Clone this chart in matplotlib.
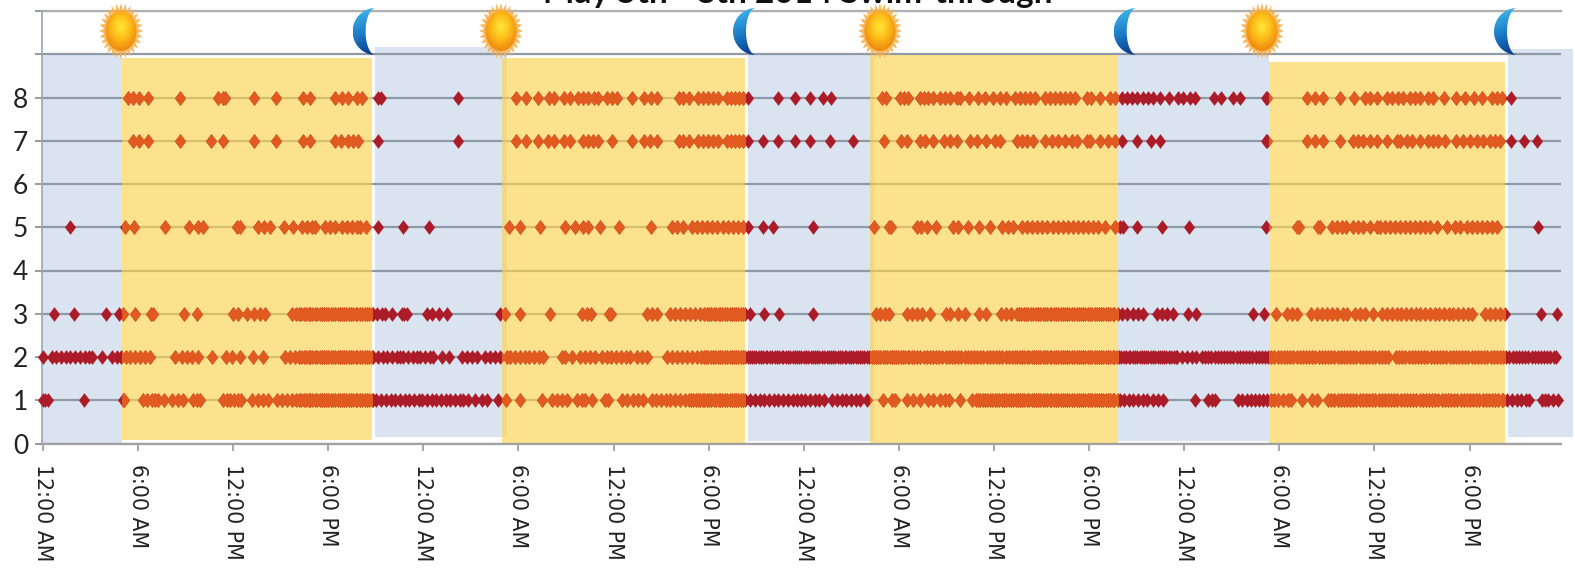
import numpy as np
import matplotlib
matplotlib.use('Agg')
import matplotlib.pyplot as plt
from matplotlib.font_manager import FontProperties
from matplotlib.patches import Rectangle, Polygon, Ellipse
from matplotlib.path import Path

# hours since midnight on May 5th, one list for each level
row8_hours = [5.47, 5.75, 6.15, 6.7, 8.77, 11.14, 11.45, 11.62, 13.46, 14.86, 16.57, 16.99, 18.58, 19.0, 19.38, 19.95, 20.27, 21.32, 21.47,
              26.38, 30.06, 30.69, 31.47, 32.17, 32.49, 33.08, 33.46, 33.97, 34.33, 34.6, 35.0, 35.28, 35.85, 36.12, 36.44, 37.43, 38.2, 38.62, 39.02,
              40.41, 40.67, 41.0, 41.62, 41.94, 42.25, 42.57, 42.85, 43.42, 43.67, 43.95, 44.22, 44.47, 44.79, 46.69, 47.75,
              48.73, 49.53, 50.01, 53.25, 53.52, 54.41, 54.66, 54.94, 55.68, 55.93, 56.21, 56.52, 56.95, 57.26, 57.58, 58.0, 58.22, 58.81, 59.34, 59.8,
              60.33, 60.75, 61.13, 61.7, 62.02, 62.34, 62.65, 62.97, 63.61, 63.92, 64.24, 64.56, 64.87, 65.19, 65.51, 66.25, 66.5, 67.09, 67.73, 68.04,
              68.47, 68.78, 69.1, 69.42, 69.84, 70.16, 70.48, 70.92, 71.49, 72.06, 72.37, 72.79, 73.11, 74.34, 74.74, 75.5, 75.99, 77.61, 77.7,
              80.23, 80.72, 81.21, 82.31, 83.21, 83.89, 84.21, 84.63, 85.26, 85.58, 86.0, 86.32, 86.74, 87.06, 87.38, 87.91, 88.22, 88.9, 89.66, 90.23,
              90.8, 91.29, 91.92, 92.24, 92.56, 93.13]
row7_hours = [5.77, 6.15, 6.7, 8.77, 10.69, 11.45, 13.46, 14.86, 16.57, 16.99, 18.58, 18.96, 19.42, 19.74, 20.06, 21.32,
              26.38, 30.06, 30.69, 31.47, 32.11, 32.49, 33.08, 33.46, 34.33, 34.64, 34.96, 35.28, 36.12, 37.43, 38.2, 38.55, 39.02,
              40.41, 40.67, 41.0, 41.62, 41.94, 42.25, 42.57, 42.85, 43.42, 43.67, 43.95, 44.22, 44.47, 44.79, 45.7, 46.69, 47.75,
              48.73, 49.99, 51.41, 53.4, 54.47, 54.88, 55.68, 56.0, 56.52, 57.2, 57.58, 58.05, 58.85, 59.27, 59.86, 60.44, 60.75,
              61.81, 62.13, 62.44, 62.87, 63.61, 64.03, 64.45, 64.87, 65.3, 65.61, 66.25, 66.46, 67.09, 67.62, 68.04, 68.47, 69.42, 70.33, 70.92,
              77.61, 77.7, 80.23, 80.72, 81.21, 82.31, 83.15, 83.47, 83.79, 84.21, 84.63, 85.26, 85.9, 86.11, 86.53, 86.85, 87.38, 87.91, 88.22, 88.54,
              88.96, 89.66, 90.13, 90.55, 90.97, 91.39, 91.82, 92.14, 92.45, 93.13, 93.97, 94.82]
row5_hours = [1.77, 5.26, 5.85, 7.8, 9.3, 9.87, 10.18, 12.35, 12.55, 13.67, 14.07, 14.45, 15.34, 15.93, 16.46, 16.78, 17.1, 17.31, 17.94, 18.26,
              18.58, 19.0, 19.32, 19.63, 19.95, 20.16, 20.52, 21.32, 22.89, 24.52, 29.63, 30.31, 31.58, 33.19, 33.8, 34.33, 34.64, 35.38, 36.59, 38.64,
              39.93, 40.25, 40.67, 41.2, 41.51, 41.83, 42.15, 42.47, 42.78, 43.2, 43.52, 43.84, 44.16, 44.47, 44.79, 45.74, 46.38, 48.89,
              52.76, 53.73, 53.82, 55.47, 55.72, 56.1, 56.67, 57.79, 58.11, 58.7, 59.4, 60.14, 60.9, 61.28, 61.6, 62.13, 62.44, 62.76, 63.08, 63.39,
              63.71, 64.13, 64.45, 64.77, 65.09, 65.4, 65.72, 66.04, 66.35, 66.67, 66.99, 67.41, 68.04, 68.36, 68.57, 69.42, 71.0, 72.73, 77.61,
              79.6, 79.73, 80.93, 81.04, 81.78, 82.09, 82.41, 82.69, 83.15, 83.47, 83.79, 84.21, 84.63, 84.84, 85.16, 85.48, 85.79, 86.11, 86.43, 86.74,
              87.06, 87.38, 87.7, 88.01, 88.44, 89.07, 89.6, 89.92, 90.34, 90.66, 90.97, 91.29, 91.61, 91.92, 92.24, 94.88]
row3_hours = [0.78, 2.05, 4.06, 4.9, 5.15, 5.87, 6.89, 7.01, 8.98, 9.85, 12.13, 12.45, 13.02, 13.44, 13.82, 14.14, 15.83, 16.1,
              16.3, 16.45, 16.6, 16.75, 16.9, 17.0, 17.15, 17.3, 17.45, 17.6, 17.75, 17.9, 18.0, 18.15, 18.3, 18.45, 18.6, 18.75, 18.9,
              19.0, 19.15, 19.3, 19.45, 19.6, 19.75, 19.9, 20.0, 20.15, 20.3, 20.45, 20.6, 20.75, 20.9, 21.0,
              21.22, 21.54, 21.75, 22.21, 22.8, 22.95, 23.12, 24.44, 24.71, 25.17, 25.66, 29.04, 29.36, 30.31, 32.23, 34.22, 34.54, 34.79, 35.98, 36.06,
              38.34, 38.66, 38.98, 39.82, 40.14, 40.46, 40.77, 41.09, 41.41, 41.73,
              42.0, 42.15, 42.3, 42.45, 42.6, 42.75, 42.9, 43.0, 43.15, 43.3, 43.45, 43.6, 43.75, 43.9, 44.0, 44.15, 44.3, 44.45, 44.6,
              44.9, 45.78, 46.76, 48.89, 52.89, 53.14, 53.46, 53.73, 54.83, 55.15, 55.47, 55.78, 56.31, 57.33, 57.58, 58.11, 58.53, 59.42, 59.86,
              60.82, 61.13, 61.43, 61.8, 61.95, 62.1, 62.25, 62.4, 62.55, 62.7, 62.85, 63.0, 63.15, 63.3, 63.45, 63.6, 63.75, 63.9,
              64.0, 64.15, 64.3, 64.45, 64.6, 64.75, 64.9, 65.0, 65.15, 65.3, 65.45, 65.6, 65.75, 65.9, 66.0, 66.15, 66.3, 66.45, 66.6, 66.75, 66.9,
              67.0, 67.15, 67.3, 67.45, 67.6, 67.75, 67.9, 68.0, 68.2,
              68.47, 68.78, 69.21, 69.52, 69.84, 70.69, 71.0, 71.32, 71.74, 72.65, 73.15, 76.77, 77.51, 78.23, 78.92, 79.24, 79.56,
              80.45, 80.83, 81.14, 81.46, 81.78, 82.09, 82.52, 82.73, 83.26, 83.57, 83.89, 84.38, 84.95,
              85.3, 85.6, 85.9, 86.2, 86.5, 86.8, 87.1, 87.4, 87.7, 88.0, 88.3, 88.6, 88.9, 89.2, 89.5, 89.8, 90.1, 90.4, 90.7,
              91.5, 91.82, 92.14, 92.45, 92.77, 95.05, 96.09]
row2_hours = [0.04, 0.61, 0.9, 1.2, 1.5, 1.8, 2.1, 2.4, 2.7, 3.0, 3.2, 3.82, 4.41, 4.73, 5.0, 5.3, 5.6, 5.9, 6.2, 6.5, 6.85,
              8.43, 8.85, 9.17, 9.49, 9.91, 10.76, 11.66, 12.02, 12.55, 13.4, 13.99, 15.4, 15.72, 16.04,
              16.3, 16.45, 16.6, 16.75, 16.9, 17.0, 17.15, 17.3, 17.45, 17.6, 17.75, 17.9, 18.0, 18.15, 18.3, 18.45, 18.6, 18.75, 18.9,
              19.0, 19.15, 19.3, 19.45, 19.6, 19.75, 19.9, 20.0, 20.15, 20.3, 20.45, 20.6, 20.75, 20.9, 21.0,
              21.3, 21.6, 21.9, 22.2, 22.5, 22.7, 22.9, 23.2, 23.5, 23.8, 24.0, 24.3, 24.6, 24.8, 25.34, 25.83, 26.61, 26.93, 27.25, 27.56,
              28.09, 28.4, 28.73, 29.04, 29.47, 29.7, 30.0, 30.3, 30.6, 30.9, 31.2, 31.5, 31.8, 32.95, 33.17, 33.63, 34.12, 34.43, 34.75, 35.07,
              35.49, 35.8, 36.1, 36.4, 36.7, 37.0, 37.3, 37.71, 38.03, 38.34, 39.61, 39.93, 40.25, 40.57, 40.88, 41.2, 41.51,
              41.8, 41.95, 42.1, 42.25, 42.4, 42.55, 42.7, 42.85, 43.0, 43.15, 43.3, 43.45, 43.6, 43.75, 43.9, 44.0, 44.15, 44.3, 44.45, 44.6, 44.75, 44.9,
              45.0, 45.15, 45.3, 45.45, 45.6, 45.75, 45.9, 46.0, 46.15, 46.3, 46.45, 46.6, 46.75, 46.9, 47.0, 47.15, 47.3, 47.45, 47.6, 47.75, 47.9,
              48.0, 48.15, 48.3, 48.45, 48.6, 48.75, 48.9, 49.0, 49.15, 49.3, 49.45, 49.6, 49.75, 49.9, 50.0, 50.15, 50.3, 50.45, 50.6, 50.75, 50.9,
              51.0, 51.15, 51.3, 51.45, 51.6, 51.75, 51.9, 52.0, 52.15, 52.3, 52.45, 52.6, 52.75, 52.9, 53.0, 53.15, 53.3, 53.45, 53.6, 53.75, 53.9,
              54.0, 54.15, 54.3, 54.45, 54.6, 54.75, 54.9, 55.0, 55.15, 55.3,
              55.5, 55.7, 55.9, 56.1, 56.3, 56.5, 56.7, 56.9, 57.1, 57.3, 57.5, 57.7, 57.9, 58.1, 58.3, 58.5, 58.7, 58.9, 59.1, 59.3, 59.5, 59.7, 59.9,
              60.1, 60.3, 60.5, 60.7, 60.9, 61.1, 61.3, 61.5, 61.7,
              61.85, 62.0, 62.15, 62.3, 62.45, 62.6, 62.75, 62.9, 63.0, 63.15, 63.3, 63.45, 63.6, 63.75, 63.9, 64.0, 64.15, 64.3, 64.45, 64.6, 64.75, 64.9,
              65.0, 65.15, 65.3, 65.45, 65.6, 65.75, 65.9, 66.0, 66.15, 66.3, 66.45, 66.6, 66.75, 66.9, 67.0, 67.15, 67.3, 67.45, 67.6, 67.75, 67.9,
              68.0, 68.15, 68.3, 68.45, 68.6, 68.75, 68.9, 69.0, 69.15, 69.3, 69.45, 69.6, 69.75, 69.9, 70.0, 70.15, 70.3, 70.45, 70.6, 70.75, 70.9,
              71.0, 71.15, 71.3, 71.45, 71.6, 71.75, 71.9, 72.0, 72.3, 72.6, 72.9, 73.2, 73.55,
              73.75, 73.95, 74.15, 74.35, 74.55, 74.75, 74.95, 75.15, 75.35, 75.55, 75.75, 75.95, 76.15, 76.35, 76.55, 76.75, 76.95, 77.15, 77.35, 77.55, 77.75, 77.95,
              78.15, 78.35, 78.55, 78.75, 78.95, 79.15, 79.35, 79.55, 79.75, 79.95, 80.15, 80.35, 80.55, 80.75, 80.95, 81.15, 81.35, 81.55, 81.75, 81.95,
              82.15, 82.35, 82.55, 82.75, 82.95, 83.15, 83.35, 83.55, 83.75, 83.95, 84.15, 84.35, 84.55, 84.75, 84.95, 85.15, 85.35,
              85.85, 86.05, 86.25, 86.45, 86.65, 86.85, 87.05, 87.25, 87.45, 87.65, 87.85, 88.05, 88.25, 88.45, 88.65, 88.85, 89.05, 89.25, 89.45, 89.65, 89.85,
              90.05, 90.25, 90.45, 90.65, 90.85, 91.05, 91.25, 91.45, 91.65, 91.85, 92.05, 92.25, 92.45, 92.65, 92.85, 93.05, 93.25, 93.45, 93.65, 93.85,
              94.05, 94.25, 94.45, 94.65, 94.85, 95.05, 95.25, 95.45, 95.65, 95.85, 96.0]
row1_hours = [0.04, 0.19, 0.4, 2.66, 5.15, 5.2, 6.42, 6.63, 6.95, 7.16, 7.37, 7.73, 8.26, 8.64, 8.92, 9.59, 9.8, 10.0, 11.45, 11.7, 11.95, 12.15, 12.4, 12.65,
              13.29, 13.71, 14.03, 14.35, 14.88, 15.2, 15.51, 15.83, 16.1,
              16.3, 16.45, 16.6, 16.75, 16.9, 17.0, 17.15, 17.3, 17.45, 17.6, 17.75, 17.9, 18.0, 18.15, 18.3, 18.45, 18.6, 18.75, 18.9,
              19.0, 19.15, 19.3, 19.45, 19.6, 19.75, 19.9, 20.0, 20.15, 20.3, 20.45, 20.6, 20.75, 20.9, 21.0,
              21.2, 21.5, 21.8, 22.1, 22.4, 22.7, 23.0, 23.3, 23.6, 23.9, 24.1, 24.4, 24.7, 25.0, 25.3, 25.6, 25.9, 26.2, 26.5, 26.7,
              27.0, 27.46, 27.88, 28.2, 28.94, 29.4, 30.31, 31.69, 32.32, 32.64, 32.95, 33.27, 33.9, 34.22, 34.43, 34.9, 35.7, 35.91,
              36.76, 37.08, 37.5, 37.81, 38.13, 38.66, 38.95, 39.25, 39.55, 39.85, 40.15, 40.45, 40.75,
              41.0, 41.15, 41.3, 41.45, 41.6, 41.75, 41.9, 42.0, 42.15, 42.3, 42.45, 42.6, 42.75, 42.9, 43.0, 43.15, 43.3, 43.45, 43.6, 43.75, 43.9,
              44.0, 44.15, 44.3, 44.45, 44.6, 44.9, 45.2, 45.5, 45.8, 46.1, 46.4, 46.7, 47.0, 47.3, 47.6, 47.9,
              48.1, 48.4, 48.7, 49.0, 49.3, 49.6, 50.1, 50.4, 50.7, 51.0, 51.3, 51.6, 51.9, 52.3, 53.35, 53.88, 54.1, 54.83, 55.26, 55.68, 56.2, 56.52,
              56.95, 57.26, 57.52, 58.2, 59.0,
              59.2, 59.35, 59.5, 59.65, 59.8, 59.95, 60.1, 60.25, 60.4, 60.55, 60.7, 60.85, 61.0, 61.15, 61.3, 61.45, 61.6, 61.75, 61.9,
              62.0, 62.15, 62.3, 62.45, 62.6, 62.75, 62.9, 63.0, 63.15, 63.3, 63.45, 63.6, 63.75, 63.9, 64.0, 64.15, 64.3, 64.45, 64.6, 64.75, 64.9,
              65.0, 65.15, 65.3, 65.45, 65.6, 65.75, 65.9, 66.0, 66.15, 66.3, 66.45, 66.6, 66.75, 66.9, 67.0, 67.15, 67.3, 67.45, 67.6, 67.75, 67.9, 68.0, 68.2,
              68.36, 68.6, 68.9, 69.2, 69.5, 69.8, 70.05, 70.47, 70.75, 71.1, 73.11, 73.96, 74.17, 74.38,
              75.86, 76.1, 76.4, 76.65, 76.9, 77.15, 77.4, 77.65, 77.9, 78.1, 78.4, 78.7, 79.0, 79.2, 79.88, 80.51, 80.83,
              81.55, 81.75, 81.95, 82.15, 82.35, 82.55, 82.75, 82.95, 83.15, 83.35, 83.55, 83.75, 83.95, 84.15, 84.35, 84.55, 84.75, 84.95,
              85.15, 85.35, 85.55, 85.75, 85.95, 86.15, 86.35, 86.55, 86.75, 86.95, 87.15, 87.35, 87.55, 87.75, 87.95,
              88.15, 88.35, 88.55, 88.75, 88.95, 89.15, 89.35, 89.55, 89.75, 89.95, 90.15, 90.35, 90.55, 90.75, 90.95,
              91.15, 91.35, 91.55, 91.75, 91.95, 92.15, 92.35, 92.55, 92.66,
              92.9, 93.2, 93.5, 93.8, 94.1, 94.3, 95.1, 95.3, 95.5, 95.8, 96.1]

levels = [8, 7, 5, 3, 2, 1]
level_hours = [row8_hours, row7_hours, row5_hours, row3_hours, row2_hours, row1_hours]

# night and day blocks as pasted over the chart: start, end, bottom, top
night_blocks = [(0, 5.09, 0, 9.0), (21.1, 29.49, 0.15, 9.17), (44.77, 52.76, 0.06, 9.0),
                (68.23, 77.8, 0.06, 9.0), (92.96, 97.08, 0.15, 9.12)]
day_blocks = [(5.09, 20.95, 0.08, 8.91), (29.17, 44.58, 0.01, 8.91),
              (52.5, 68.23, 0.01, 8.98), (77.8, 92.77, 0.01, 8.83)]

tick_hours = [0.06, 6.09, 12.12, 18.15, 24.18, 30.21, 36.24, 42.27, 48.31, 54.34, 60.37, 66.4, 72.43, 78.46, 84.49, 90.52]
tick_labels = ['12:00 AM', '6:00 AM', '12:00 PM', '6:00 PM'] * 4
y_labels = ['0', '1', '2', '3', '4', '5', '6', '7', '8', '', '']

sun_px = [121, 501, 880, 1262]
moon_left_px = [352.6, 733, 1113.7, 1494]

W, H = 1575, 572
plt.rcParams['font.family'] = ['DejaVu Sans']
fig = plt.figure(figsize=(W / 100, H / 100), dpi=100)
ax = fig.add_axes([42 / W, 1 - 443.5 / H, (1561 - 42) / W, (443.5 - 11) / H])

grid_col = '#8f99a8'
red = '#ab1c28'
orange = '#e15b20'
diamond = Path([(0, -1), (0.75, 0), (0, 1), (-0.75, 0), (0, -1)], closed=True)

ax.set_xlim(0, 96.32)
ax.set_ylim(0, 10)
ax.set_axisbelow(True)
ax.yaxis.grid(True, color=grid_col, lw=1.6)
ax.set_yticks(range(11))
ax.set_yticklabels(y_labels, color='#222222', fontproperties=FontProperties(family='Lato', size=19))
ax.set_xticks(tick_hours)
ax.set_xticklabels(tick_labels, rotation=-90, color='#222222',
                   fontproperties=FontProperties(family='DejaVu Sans', size=14.8))
ax.tick_params(axis='x', length=5, width=1.2, color='#9a9a9a', pad=10)
ax.tick_params(axis='y', length=5, width=1.4, color='#9a9a9a', pad=5)
for s in ['top', 'right']:
    ax.spines[s].set_visible(False)
ax.spines['left'].set_color('#9aa5b5')
ax.spines['left'].set_linewidth(1.2)
ax.spines['bottom'].set_color('#a0a0a0')
ax.spines['bottom'].set_linewidth(1.6)
ax.axhline(10, color='#b0b0b0', lw=1.6, clip_on=False, zorder=0.6)

for x0, x1, y0, y1 in night_blocks:
    ax.add_patch(Rectangle((x0, y0), x1 - x0, y1 - y0, color='#dae4f0', lw=0, zorder=0.1, clip_on=False))

day_rects = []
for x0, x1, y0, y1 in day_blocks:
    r = Rectangle((x0, y0), x1 - x0, y1 - y0, facecolor='#fbd34f', alpha=0.65, lw=0, zorder=1.5)
    ax.add_patch(r)
    day_rects.append(r)

# markers read red at night, the yellow block turns them orange
for lev, hrs in zip(levels, level_hours):
    hrs = np.array(hrs)
    ys = np.full(len(hrs), lev)
    ax.plot(hrs, ys, ls='none', marker=diamond, ms=10.6, mfc=red, mec='none', zorder=3, clip_on=False)
    for r in day_rects:
        ln, = ax.plot(hrs, ys, ls='none', marker=diamond, ms=10.6, mfc=orange, mec='none', zorder=4)
        ln.set_clip_path(r)

fig.text(798 / W, 1 - 3 / H, 'May 5th - 8th 2014 Swim-through', ha='center', va='baseline',
         color='#111111', fontproperties=FontProperties(family='Lato', weight='bold', size=24))

# sun and moon icons, drawn in pixel coordinates on top
ov = fig.add_axes([0, 0, 1, 1], zorder=5)
ov.patch.set_alpha(0)
ov.axis('off')

yy, xx = np.mgrid[-1:1:64j, -1:1:64j]
rr = np.sqrt(xx ** 2 + (yy + 0.2) ** 2)
sun_cmap = matplotlib.colors.LinearSegmentedColormap.from_list('sun', ['#ffe83a', '#fdbf1a', '#f08c12'])
moon_cmap = matplotlib.colors.LinearSegmentedColormap.from_list('moon', ['#45bdf0', '#1c7fc8', '#0a3588'])

for cx in sun_px:
    cy = 31
    ang = np.linspace(0, 2 * np.pi, 57)[:-1]
    rad = np.where(np.arange(56) % 2 == 0, 1.0, 0.76)
    star = np.column_stack([cx + 22 * rad * np.cos(ang), cy + 28 * rad * np.sin(ang)])
    ov.add_patch(Polygon(star, closed=True, facecolor='#f7ad45', edgecolor='none', alpha=0.85))
    body = Ellipse((cx, cy), 31, 40, facecolor='none', edgecolor='none')
    ov.add_patch(body)
    im = ov.imshow(rr, cmap=sun_cmap, vmin=0, vmax=1.1, extent=(cx - 16, cx + 16, cy + 21, cy - 21),
                   aspect='auto', zorder=2)
    im.set_clip_path(body)

t = np.linspace(0, np.pi, 40)
for left in moon_left_px:
    tip = left + 23
    my = 8 + 47 * (1 - np.cos(t)) / 2
    outer = np.column_stack([tip - 23 * np.sin(t), my])
    inner = np.column_stack([tip - 10 * np.sin(t), my])[::-1]
    shape = Polygon(np.vstack([outer, inner]), closed=True, facecolor='none', edgecolor='none')
    ov.add_patch(shape)
    grad = np.linspace(0, 1, 64)[:, None] * 0.85 + (xx[:, :] + 1) / 2 * 0.15
    im = ov.imshow(grad, cmap=moon_cmap, vmin=0, vmax=1, extent=(left, tip, 55, 8), aspect='auto', zorder=2)
    im.set_clip_path(shape)

ov.set_xlim(0, W)
ov.set_ylim(H, 0)

fig.savefig('out.png', dpi=100)
